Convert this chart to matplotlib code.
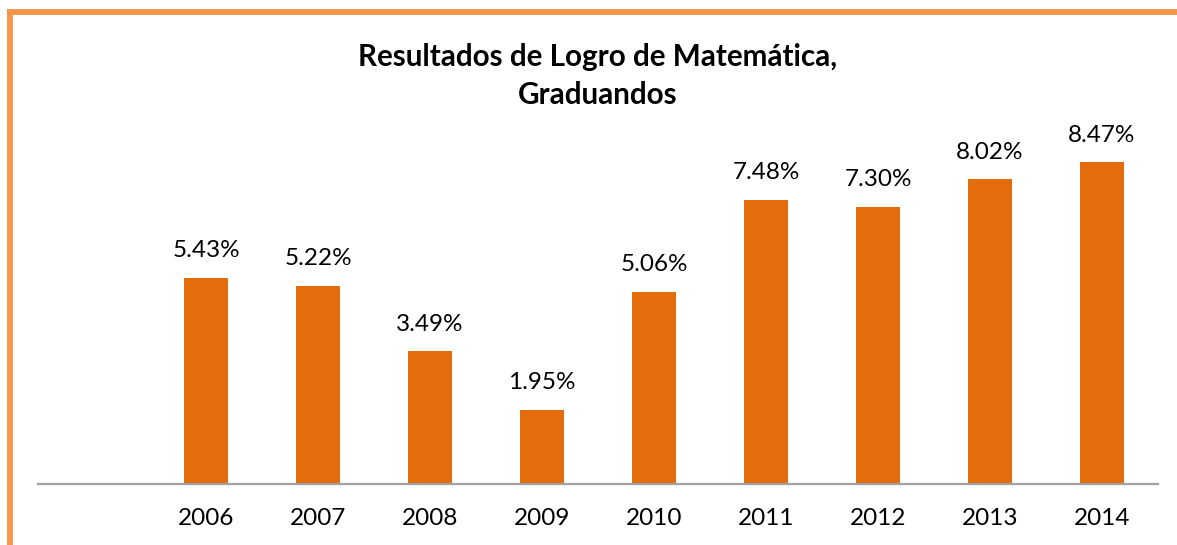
import matplotlib.pyplot as plt
from matplotlib.lines import Line2D

# Data
years = ["2006", "2007", "2008", "2009", "2010", "2011", "2012", "2013", "2014"]
values = [5.43, 5.22, 3.49, 1.95, 5.06, 7.48, 7.30, 8.02, 8.47]
labels = ["5.43%", "5.22%", "3.49%", "1.95%", "5.06%", "7.48%", "7.30%", "8.02%", "8.47%"]

plt.rcParams["font.family"] = ["Lato", "DejaVu Sans"]

fig = plt.figure(figsize=(11.77, 5.45), dpi=100)
ax = fig.add_axes([38 / 1177, 61 / 545, 1120 / 1177, 380 / 545])

x = list(range(len(years)))
ax.bar(x, values, width=0.4, color="#E46C0A", zorder=2)

# Data labels above bars
for xi, v, lab in zip(x, values, labels):
    ax.annotate(
        lab,
        (xi, v),
        xytext=(0, 27),
        textcoords="offset pixels",
        ha="center",
        va="center",
        fontsize=17.5,
        color="#000000"
    )

ax.set_xlim(-1.5, len(years) - 0.5)
ax.set_ylim(0, 10)

ax.set_xticks(x)
ax.set_xticklabels(years, fontsize=17.5)
ax.tick_params(axis="x", length=0, pad=17)
ax.set_yticks([])

for side in ["top", "right", "left"]:
    ax.spines[side].set_visible(False)
ax.spines["bottom"].set_color("#A0A0A0")
ax.spines["bottom"].set_linewidth(1.6)

# Title
fig.text(
    598 / 1177,
    1 - 57 / 545,
    "Resultados de Logro de Matemática,",
    ha="center",
    va="center",
    fontsize=21.3,
    fontweight="bold"
)
fig.text(
    598 / 1177,
    1 - 95 / 545,
    "Graduandos",
    ha="center",
    va="center",
    fontsize=21.3,
    fontweight="bold"
)

# Orange frame on top and left
border = "#F79646"
fig.add_artist(Line2D([7 / 1177, 1], [1 - 12 / 545, 1 - 12 / 545],
                      color=border, linewidth=4.2, solid_capstyle="butt"))
fig.add_artist(Line2D([9.5 / 1177, 9.5 / 1177], [0, 1 - 9.5 / 545],
                      color=border, linewidth=4.2, solid_capstyle="butt"))

fig.savefig("out.png", dpi=100)
